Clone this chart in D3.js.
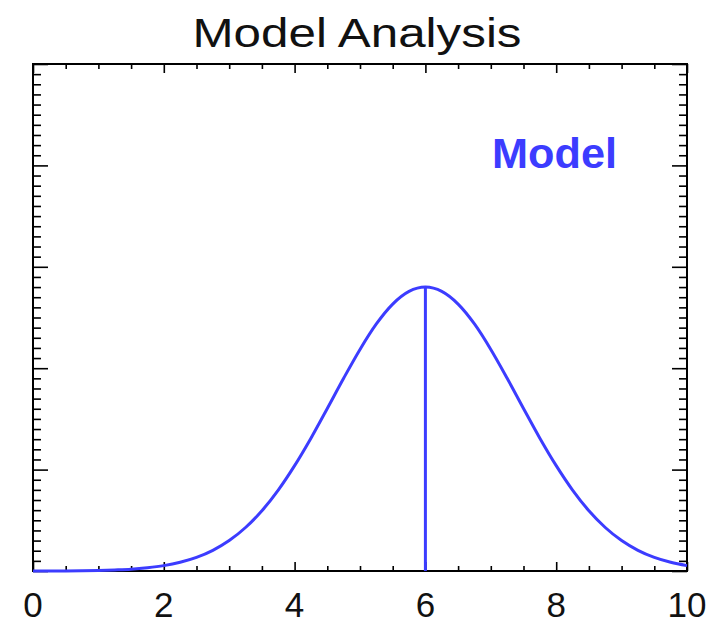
<!DOCTYPE html>
<html><head><meta charset="utf-8">
<script src="https://cdn.jsdelivr.net/npm/d3@7"></script>
<style>html,body{margin:0;padding:0;background:#fff;}svg{display:block;}</style>
</head><body>
<script>
// Data
const xValues = [0,0.25,0.5,0.75,1,1.25,1.5,1.75,2,2.25,2.5,2.75,3,3.25,3.5,3.75,4,4.25,4.5,4.75,5,5.25,5.5,5.75,6,
                 6.25,6.5,6.75,7,7.25,7.5,7.75,8,8.25,8.5,8.75,9,9.25,9.5,9.75,10];
const yValues = [0,0,0.0001,0.0003,0.0006,0.0011,0.0018,0.0032,0.0053,0.0086,0.0134,0.0204,0.0300,0.0429,0.0594,0.0798,0.1039,0.1310,0.1603,0.1901,0.2185,0.2436,0.2632,0.2757,0.2800,
                 0.2757,0.2632,0.2436,0.2185,0.1901,0.1603,0.1310,0.1039,0.0798,0.0594,0.0429,0.0300,0.0204,0.0134,0.0086,0.0053];
const peakX = 6;
const peakY = 0.2800;
const xTickLabels = ["0","2","4","6","8","10"];
const xMajor = [0,2,4,6,8,10];
const yMajor = [0,0.1,0.2,0.3,0.4,0.5];
const titleText = "Model Analysis";
const legendText = "Model";

const W = 727, H = 626;
const m = {left:33, right:40, top:64, bottom:55};
const color = "#3c3cff";

const svg = d3.select("body").append("svg").attr("width", W).attr("height", H);

const x = d3.scaleLinear().domain([0,10]).range([m.left, W - m.right]);
const y = d3.scaleLinear().domain([0,0.5]).range([H - m.bottom, m.top]);

const xMinor = d3.range(0, 10.001, 0.5).filter(v => !xMajor.includes(v));
const yMinorAll = d3.range(0, 0.5001, 0.01).map(v => +v.toFixed(2)).filter(v => !yMajor.some(t => Math.abs(t - v) < 1e-9));

const axisStyle = g => { g.select(".domain").remove(); g.selectAll("line").attr("stroke","#000").attr("stroke-width",1.6); g.selectAll("text").remove(); };

// bottom axis (ticks inward)
svg.append("g").attr("transform",`translate(0,${y(0)})`)
  .call(d3.axisBottom(x).tickValues(xMajor).tickSizeInner(-9).tickSizeOuter(0).tickFormat(""))
  .call(axisStyle);
svg.append("g").attr("transform",`translate(0,${y(0)})`)
  .call(d3.axisBottom(x).tickValues(xMinor).tickSizeInner(-5).tickSizeOuter(0).tickFormat(""))
  .call(axisStyle);
// top axis
svg.append("g").attr("transform",`translate(0,${y(0.5)})`)
  .call(d3.axisTop(x).tickValues(xMajor).tickSizeInner(-9).tickSizeOuter(0).tickFormat(""))
  .call(axisStyle);
svg.append("g").attr("transform",`translate(0,${y(0.5)})`)
  .call(d3.axisTop(x).tickValues(xMinor).tickSizeInner(-5).tickSizeOuter(0).tickFormat(""))
  .call(axisStyle);
// left axis
svg.append("g").attr("transform",`translate(${x(0)},0)`)
  .call(d3.axisLeft(y).tickValues(yMajor).tickSizeInner(-15).tickSizeOuter(0).tickFormat(""))
  .call(axisStyle);
svg.append("g").attr("transform",`translate(${x(0)},0)`)
  .call(d3.axisLeft(y).tickValues(yMinorAll).tickSizeInner(-8).tickSizeOuter(0).tickFormat(""))
  .call(axisStyle);
// right axis
svg.append("g").attr("transform",`translate(${x(10)},0)`)
  .call(d3.axisRight(y).tickValues(yMajor).tickSizeInner(-15).tickSizeOuter(0).tickFormat(""))
  .call(axisStyle);
svg.append("g").attr("transform",`translate(${x(10)},0)`)
  .call(d3.axisRight(y).tickValues(yMinorAll).tickSizeInner(-8).tickSizeOuter(0).tickFormat(""))
  .call(axisStyle);

// frame
svg.append("rect").attr("x", x(0)).attr("y", y(0.5)).attr("width", x(10)-x(0)).attr("height", y(0)-y(0.5))
  .attr("fill","none").attr("stroke","#000").attr("stroke-width",2);

// x tick labels
svg.append("g").selectAll("text").data(xMajor).join("text")
  .attr("x", d => x(d)).attr("y", y(0) + 46)
  .attr("text-anchor","middle")
  .attr("font-family","'Liberation Sans Narrow','Liberation Sans',sans-serif")
  .attr("font-size", 35).attr("fill","#111")
  .text((d,i) => xTickLabels[i]);

// curve
const line = d3.line().x((d,i) => x(xValues[i])).y(d => y(d)).curve(d3.curveMonotoneX);
svg.append("path").datum(yValues).attr("d", line)
  .attr("fill","none").attr("stroke", color).attr("stroke-width",3).attr("stroke-linejoin","round");
// vertical line at peak
svg.append("line").attr("x1", x(peakX)).attr("x2", x(peakX)).attr("y1", y(0)).attr("y2", y(peakY))
  .attr("stroke", color).attr("stroke-width",3);

// title
svg.append("text").attr("x", 357).attr("y", 47).attr("text-anchor","middle")
  .attr("font-family","'Liberation Sans',sans-serif").attr("font-size",41).attr("fill","#111")
  .attr("textLength", 329).attr("lengthAdjust","spacingAndGlyphs")
  .text(titleText);

// legend label
svg.append("text").attr("x", 492).attr("y", 168)
  .attr("font-family","'Liberation Sans',sans-serif").attr("font-size",42).attr("font-weight","bold").attr("fill", color)
  .attr("textLength", 125).attr("lengthAdjust","spacingAndGlyphs")
  .text(legendText);
</script>
</body></html>
